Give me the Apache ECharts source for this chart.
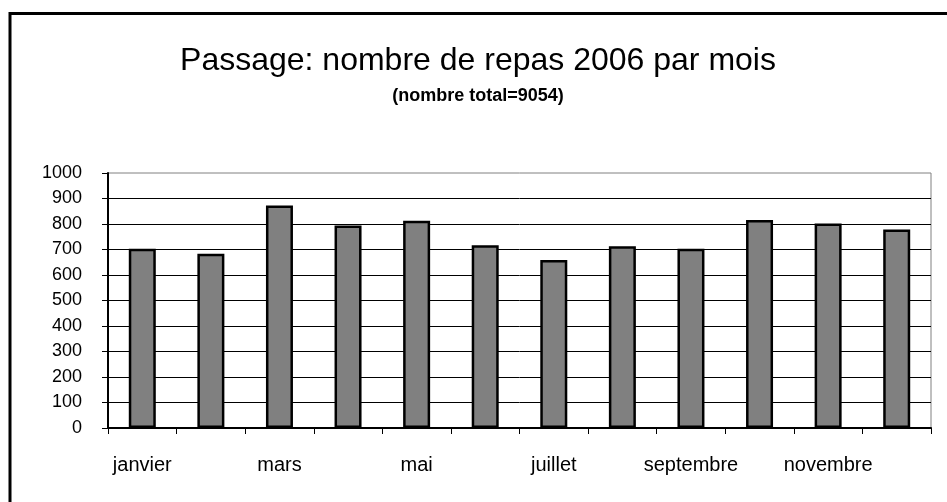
<!DOCTYPE html>
<html>
<head>
<meta charset="utf-8">
<script src="https://cdn.jsdelivr.net/npm/echarts@6/dist/echarts.min.js"></script>
<style>
  html, body { margin: 0; padding: 0; background: #fff; }
  #box { width: 947px; height: 502px; }
</style>
</head>
<body>
<div id="box"></div>
<script>
// données : repas par mois (2006)
var mois = ['janvier', 'février', 'mars', 'avril', 'mai', 'juin',
            'juillet', 'août', 'septembre', 'octobre', 'novembre', 'décembre'];
var repas = [703, 683, 873, 794, 813, 717, 659, 713, 703, 816, 802, 778];
var titre = 'Passage: nombre de repas 2006 par mois';
var sousTitre = '(nombre total=9054)';

var myChart = echarts.init(document.getElementById('box'));

var police = "'Liberation Sans', Arial, sans-serif";

var option = {
    backgroundColor: '#ffffff',
    animation: false,
    title: [{
        text: titre,
        left: 473,
        top: 40,
        textAlign: 'center',
        textStyle: { fontFamily: police, fontSize: 32, fontWeight: 'normal', color: '#000' }
    }, {
        text: sousTitre,
        left: 473,
        top: 82,
        textAlign: 'center',
        textStyle: { fontFamily: police, fontSize: 18, fontWeight: 'bold', color: '#000' }
    }],
    // cadre du graphique
    graphic: [{
        type: 'rect',
        shape: { x: 10, y: 13.5, width: 1000, height: 1000 },
        style: { fill: 'none', stroke: '#000', lineWidth: 3 },
        silent: true
    }],
    grid: {
        left: 108,
        right: 16,
        top: 173,
        bottom: 74,
        show: true,
        borderColor: '#808080',
        borderWidth: 1,
        backgroundColor: '#fff'
    },
    xAxis: {
        type: 'category',
        data: mois,
        axisLine: { lineStyle: { color: '#000', width: 2 } },
        axisTick: { show: true, interval: 0, length: 6, lineStyle: { color: '#000', width: 1 } },
        axisLabel: {
            interval: 1,
            margin: 27,
            fontFamily: police,
            fontSize: 20,
            color: '#000'
        }
    },
    yAxis: {
        type: 'value',
        min: 0,
        max: 1000,
        interval: 100,
        axisLine: { show: true, lineStyle: { color: '#000', width: 2 } },
        axisTick: { show: true, length: 6, lineStyle: { color: '#000', width: 1 } },
        axisLabel: {
            margin: 26,
            fontFamily: police,
            fontSize: 18,
            color: '#000',
            formatter: function (v) { return String(v); }
        },
        splitLine: {
            show: true,
            showMaxLine: false,
            lineStyle: { color: '#000', width: 1 }
        }
    },
    series: [{
        name: 'repas',
        type: 'bar',
        data: repas,
        barWidth: 27,
        itemStyle: { color: '#808080', borderColor: '#000', borderWidth: 2.5 }
    }]
};

myChart.setOption(option);
</script>
</body>
</html>
